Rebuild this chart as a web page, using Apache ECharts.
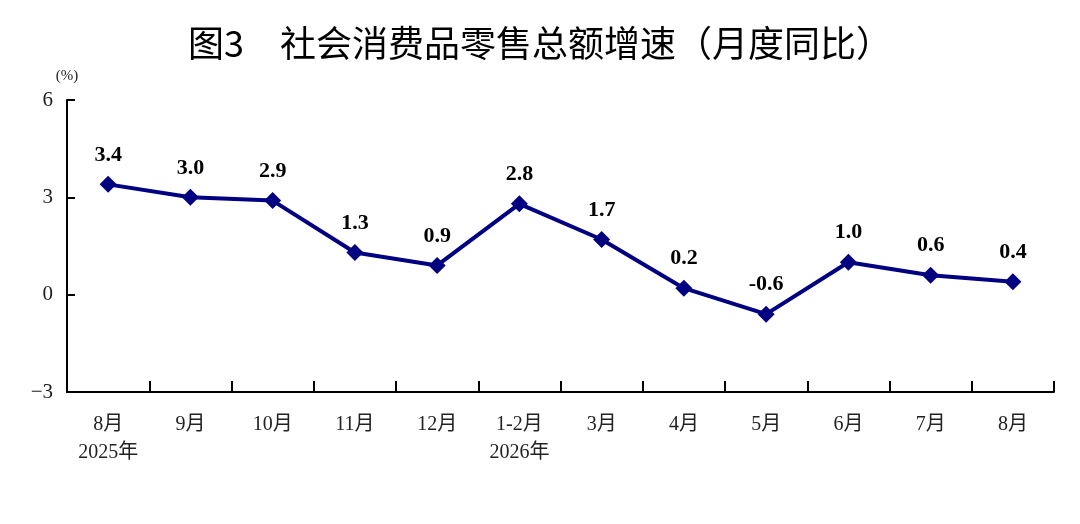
<!DOCTYPE html>
<html>
<head>
<meta charset="utf-8">
<script src="https://cdn.jsdelivr.net/npm/echarts@6/dist/echarts.min.js"></script>
<style>
  html, body { margin: 0; padding: 0; background: #fff; }
  #chart { width: 1080px; height: 524px; }
</style>
</head>
<body>
<div id="chart"></div>
<script>
var months = ['8月\n2025年', '9月', '10月', '11月', '12月', '1-2月\n2026年', '3月', '4月', '5月', '6月', '7月', '8月'];
var growth = [3.4, 3.0, 2.9, 1.3, 0.9, 2.8, 1.7, 0.2, -0.6, 1.0, 0.6, 0.4];
var yTicks = [-3, 0, 3, 6];

var serif = '"Liberation Serif", "Times New Roman", "Noto Sans CJK SC", serif';
var chart = echarts.init(document.getElementById('chart'));

chart.setOption({
  backgroundColor: '#fff',
  animation: false,
  title: {
    text: '图3　社会消费品零售总额增速（月度同比）',
    left: 'center',
    top: 20,
    padding: [5, 0, 5, 10],
    textStyle: {
      fontFamily: '"Noto Sans CJK SC", sans-serif',
      fontSize: 36,
      fontWeight: 'normal',
      color: '#000'
    }
  },
  grid: { left: 67, right: 26, top: 100, bottom: 132 },
  xAxis: {
    type: 'category',
    data: months,
    boundaryGap: true,
    axisLine: { onZero: false, lineStyle: { color: '#000', width: 2 } },
    axisTick: { show: true, interval: 0, inside: true, length: 11, lineStyle: { color: '#000', width: 2 } },
    axisLabel: {
      color: '#222',
      fontFamily: serif,
      fontSize: 20,
      lineHeight: 28,
      margin: 19,
      interval: 0
    }
  },
  yAxis: {
    type: 'value',
    min: yTicks[0],
    max: yTicks[yTicks.length - 1],
    interval: 3,
    name: '(%)',
    nameLocation: 'end',
    nameGap: 16,
    nameTextStyle: { color: '#222', fontFamily: serif, fontSize: 15, align: 'center' },
    splitLine: { show: false },
    axisLine: { show: true, lineStyle: { color: '#000', width: 2 } },
    axisTick: { show: true, inside: true, length: 8, lineStyle: { color: '#000', width: 2 } },
    axisLabel: {
      color: '#222',
      fontFamily: serif,
      fontSize: 21,
      margin: 14,
      formatter: function (v) { return String(v).replace('-', '−'); }
    }
  },
  series: [{
    type: 'line',
    data: growth,
    symbol: 'diamond',
    symbolSize: 17,
    lineStyle: { color: '#000080', width: 4 },
    itemStyle: { color: '#000080' },
    label: {
      show: true,
      position: 'top',
      distance: 10,
      color: '#000',
      fontFamily: serif,
      fontWeight: 'bold',
      fontSize: 22,
      formatter: function (p) { return p.value.toFixed(1); }
    }
  }]
});
</script>
</body>
</html>
